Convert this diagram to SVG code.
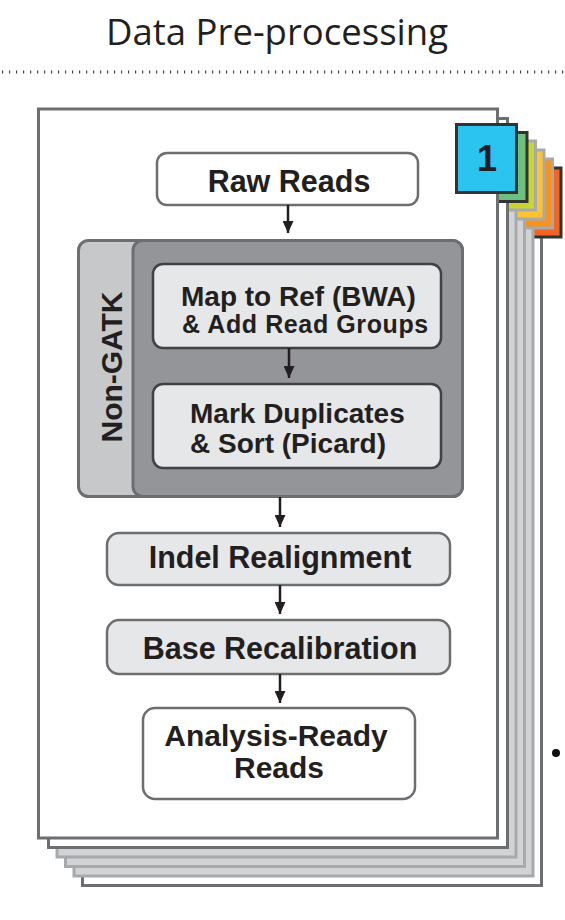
<svg xmlns="http://www.w3.org/2000/svg" width="565" height="920" viewBox="0 0 565 920">
<defs>
<style>
.pg-d{fill:#ffffff;stroke:#6d6e71;stroke-width:3}
.pg-l{fill:#d1d3d4;stroke:#a7a9ac;stroke-width:3}
.tab-d{stroke:#333333;stroke-width:3}
.tab-l{stroke:#a7a9ac;stroke-width:3}
.box-w{fill:#ffffff;stroke:#6d6e71;stroke-width:2.5}
.box-g{fill:#e6e7e8;stroke:#6d6e71;stroke-width:2.5}
.box-in{fill:#e6e7e8;stroke:#414042;stroke-width:2.5}
.lbl{font-family:"Liberation Sans",Arial,sans-serif;font-weight:bold;fill:#231f20;text-anchor:middle}
.lft{text-anchor:start}
.arr{stroke:#231f20;stroke-width:2.5;fill:none;marker-end:url(#ah)}
</style>
<marker id="ah" markerWidth="12" markerHeight="11" refX="12" refY="5.5" orient="auto" markerUnits="userSpaceOnUse">
<path d="M0,0 L12,5.5 L0,11 z" fill="#231f20"/>
</marker>
</defs>
<rect width="565" height="920" fill="#ffffff"/>
<text x="277" y="45" font-family="'Open Sans','Noto Sans',sans-serif" font-size="36.5" fill="#231f20" text-anchor="middle">Data Pre-processing</text>
<line x1="2" y1="72" x2="565" y2="72" stroke="#444444" stroke-width="3" stroke-dasharray="1.2 5.8"/>
<g id="stack">
<rect class="pg-d" x="82.5" y="156.5" width="459" height="729"/>
<rect class="tab-d" x="500" y="168" width="61" height="69" fill="#f26522"/>
<rect class="pg-l" x="74" y="147" width="459" height="729"/>
<rect class="tab-l" x="491.5" y="159" width="61" height="69" fill="#f6921e"/>
<rect class="pg-l" x="65.5" y="137.5" width="459" height="729"/>
<rect class="tab-l" x="483" y="150" width="61" height="69" fill="#fec52e"/>
<rect class="pg-l" x="57" y="128" width="459" height="729"/>
<rect class="tab-l" x="474.5" y="141" width="61" height="69" fill="#c9d62d"/>
<rect class="pg-d" x="48.5" y="118.5" width="459" height="729"/>
<rect class="tab-d" x="466" y="132.5" width="61" height="69" fill="#6cc17f"/>
<rect class="pg-d" x="38.5" y="109" width="459" height="729"/>
</g>
<g id="tab1">
<rect class="tab-d" x="456.5" y="124.5" width="60" height="68" fill="#2bc3f0"/>
<text x="487" y="171" font-family="'Liberation Sans',Arial,sans-serif" font-weight="bold" font-size="36" fill="#231f20" text-anchor="middle">1</text>
</g>
<g id="raw-reads">
<rect class="box-w" x="157" y="153" width="261" height="52" rx="10"/>
<text class="lbl" x="289" y="192" font-size="30.5">Raw Reads</text>
</g>
<g id="non-gatk">
<rect x="78.5" y="240.5" width="384" height="256" rx="10" fill="#c7c8ca" stroke="#6d6e71" stroke-width="3"/>
<rect x="133" y="240.5" width="329.5" height="256" rx="10" fill="#939598" stroke="#6d6e71" stroke-width="3"/>
<text class="lbl" transform="translate(122,367) rotate(-90)" font-size="30">Non-GATK</text>
</g>
<g id="map">
<rect class="box-in" x="153" y="264" width="288" height="84" rx="10"/>
<text class="lbl lft" x="181" y="306" font-size="28">Map to Ref (BWA)</text>
<text class="lbl lft" x="182" y="333" font-size="25" letter-spacing="0.6">&amp; Add Read Groups</text>
</g>
<g id="mark">
<rect class="box-in" x="153" y="384" width="288" height="84" rx="10"/>
<text class="lbl lft" x="190" y="423" font-size="28">Mark Duplicates</text>
<text class="lbl lft" x="190" y="453" font-size="28">&amp; Sort (Picard)</text>
</g>
<g id="indel">
<rect class="box-g" x="107" y="533" width="343" height="52" rx="12"/>
<text class="lbl" x="280" y="568" font-size="30.5">Indel Realignment</text>
</g>
<g id="bqsr">
<rect class="box-g" x="107" y="620" width="343" height="54" rx="12"/>
<text class="lbl" x="280" y="659" font-size="30.5">Base Recalibration</text>
</g>
<g id="analysis">
<rect class="box-w" x="143" y="708" width="272" height="91" rx="12"/>
<text class="lbl" x="276" y="746" font-size="30">Analysis-Ready</text>
<text class="lbl" x="279" y="778" font-size="30">Reads</text>
</g>
<g id="connectors">
<line class="arr" x1="288" y1="205" x2="288" y2="233"/>
<line class="arr" x1="289" y1="348" x2="289" y2="378"/>
<line class="arr" x1="280" y1="497" x2="280" y2="527"/>
<line class="arr" x1="280" y1="585" x2="280" y2="614"/>
<line class="arr" x1="280" y1="674" x2="280" y2="703"/>
</g>
<circle cx="556" cy="753" r="4" fill="#111111"/>
</svg>
